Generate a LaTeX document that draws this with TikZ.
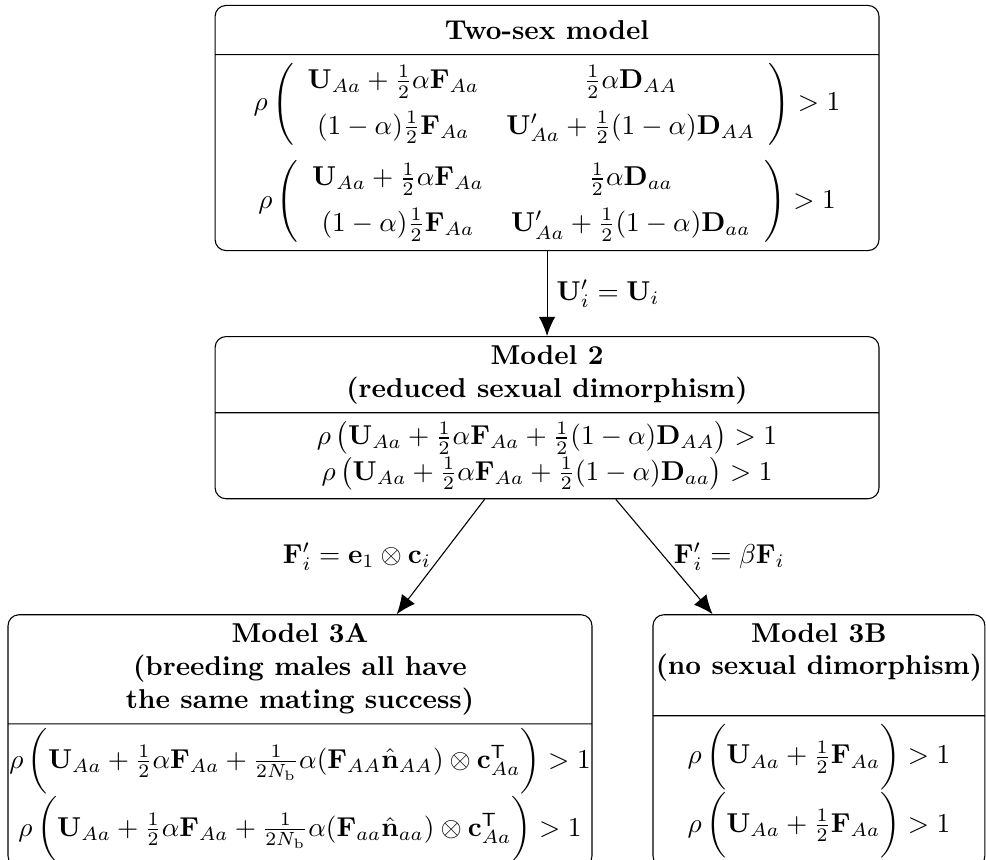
\documentclass[tikz,border=0pt]{standalone}
\usepackage{amsmath}
\usetikzlibrary{positioning, arrows.meta, shapes.multipart}

\begin{document}
\begin{tikzpicture}[
        model/.style={rectangle split, rectangle split parts=2, draw, rounded corners, inner sep=0pt},
        link/.style={-{Latex[length=7pt, width=6pt]}}
    ]
    \useasboundingbox (-200.4pt,1.8pt) rectangle (160.8pt,-313.2pt);
    \node[model, anchor=north] (TwoSex) at (0,0) {%
        \parbox[c][17.6pt][c]{243.2pt}{\centering\textbf{Two-sex model}}%
        \nodepart{two}%
        \parbox[c][71.4pt][c]{243.2pt}{\centering\def\arraystretch{1.15}%
            $\rho\left(\begin{array}{cc}
                \mathbf{U}_{Aa}+\frac{1}{2}\alpha\mathbf{F}_{Aa} & \frac{1}{2}\alpha\mathbf{D}_{AA}\\[3pt]
                (1-\alpha)\frac{1}{2}\mathbf{F}_{Aa} & \mathbf{U}'_{Aa}+\frac{1}{2}(1-\alpha)\mathbf{D}_{AA}
            \end{array}\right)>1$\\[4pt]
            $\rho\left(\begin{array}{cc}
                \mathbf{U}_{Aa}+\frac{1}{2}\alpha\mathbf{F}_{Aa} & \frac{1}{2}\alpha\mathbf{D}_{aa}\\[3pt]
                (1-\alpha)\frac{1}{2}\mathbf{F}_{Aa} & \mathbf{U}'_{Aa}+\frac{1}{2}(1-\alpha)\mathbf{D}_{aa}
            \end{array}\right)>1$}%
    };
    \node[model, below=31.1pt of TwoSex] (Red) {%
        \parbox[c][27.5pt][c]{243.2pt}{\centering\textbf{Model 2\\(reduced sexual dimorphism)}}%
        \nodepart{two}%
        \parbox[c][31.1pt][c]{243.2pt}{\centering
            $\rho\left(\mathbf{U}_{Aa}+\frac{1}{2}\alpha\mathbf{F}_{Aa}+\frac{1}{2}(1-\alpha)\mathbf{D}_{AA}\right)>1$\\
            $\rho\left(\mathbf{U}_{Aa}+\frac{1}{2}\alpha\mathbf{F}_{Aa}+\frac{1}{2}(1-\alpha)\mathbf{D}_{aa}\right)>1$}%
    };
    \node[model, below=42.1pt of Red, xshift=-90.5pt] (MA) {%
        \parbox[c][39.6pt][c]{213.9pt}{\centering\textbf{Model 3A\\(breeding males all have\\the same mating success)}}%
        \nodepart{two}%
        \parbox[c][52pt][c]{213.9pt}{\centering
            $\rho\,\biggl(\mathbf{U}_{Aa}+\frac{1}{2}\alpha\mathbf{F}_{Aa}+\frac{1}{2N_{\mathrm{b}}}\alpha(\mathbf{F}_{AA}\hat{\mathbf{n}}_{AA})\otimes\mathbf{c}^{\mathsf{T}}_{Aa}\biggr)>1$\\
            $\rho\,\biggl(\mathbf{U}_{Aa}+\frac{1}{2}\alpha\mathbf{F}_{Aa}+\frac{1}{2N_{\mathrm{b}}}\alpha(\mathbf{F}_{aa}\hat{\mathbf{n}}_{aa})\otimes\mathbf{c}^{\mathsf{T}}_{Aa}\biggr)>1$}%
    };
    \node[model, below=42.1pt of Red, xshift=99.6pt] (MB) {%
        \parbox[c][36.6pt][t]{121.6pt}{\vspace*{2.9pt}\centering\textbf{Model 3B\\(no sexual dimorphism)}}%
        \nodepart{two}%
        \parbox[c][54.9pt][c]{121.6pt}{\centering
            $\rho\,\biggl(\mathbf{U}_{Aa}+\frac{1}{2}\mathbf{F}_{Aa}\biggr)>1$\\
            $\rho\,\biggl(\mathbf{U}_{Aa}+\frac{1}{2}\mathbf{F}_{Aa}\biggr)>1$}%
    };
    \draw[link] (TwoSex) -- (Red) node[midway, right] {$\mathbf{U}'_i=\mathbf{U}_i$};
    \draw[link] (Red) -- (MA) node[midway, left] {$\mathbf{F}'_i=\mathbf{e}_1\otimes\mathbf{c}_i$};
    \draw[link] (Red) -- (MB) node[midway, right] {$\mathbf{F}'_i=\beta\mathbf{F}_i$};
\end{tikzpicture}
\end{document}
